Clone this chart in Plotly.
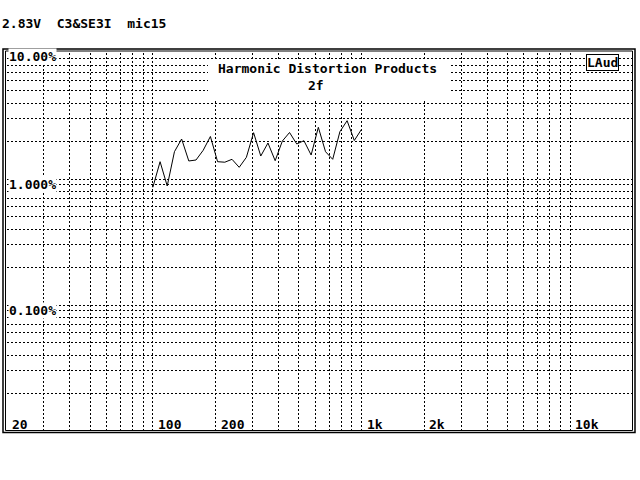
import math
import plotly.graph_objects as go

# ---- data ----
freq_hz = [100, 108.3, 117.2, 126.9, 137.4, 148.7, 161.0, 174.3, 188.7, 204.3,
           221.2, 239.5, 259.3, 280.7, 303.9, 329.0, 356.2, 385.6, 417.5, 451.9,
           489.3, 529.7, 573.5, 620.9, 672.2, 727.7, 787.8, 852.9, 923.4, 1000]
dist_pct = [0.859, 1.372, 0.880, 1.647, 2.077, 1.390, 1.415, 1.690, 2.175, 1.372,
            1.359, 1.433, 1.238, 1.486, 2.331, 1.522, 1.931, 1.397, 2.002, 2.339,
            1.896, 2.014, 1.550, 2.572, 1.647, 1.433, 2.374, 2.902, 2.021, 2.480]

x_grid = [20, 30, 40, 50, 60, 70, 80, 90, 100, 200, 300, 400, 500, 600, 700, 800, 900,
          1000, 2000, 3000, 4000, 5000, 6000, 7000, 8000, 9000, 10000, 20000]
y_grid = [0.01, 0.02, 0.03, 0.04, 0.05, 0.06, 0.07, 0.08, 0.09,
          0.1, 0.2, 0.3, 0.4, 0.5, 0.6, 0.7, 0.8, 0.9,
          1, 2, 3, 4, 5, 6, 7, 8, 9, 10]
x_label_vals = [20, 100, 200, 1000, 2000, 10000]
x_label_text = ["20", "100", "200", "1k", "2k", "10k"]
y_label_vals = [10, 1, 0.1]
y_label_text = ["10.00%", "1.000%", "0.100%"]
title_line1 = "Harmonic Distortion Products"
title_line2 = "2f"
header_text = "2.83V\u00a0\u00a0C3&SE3I\u00a0\u00a0mic15"
badge_text = "LAud"

# ---- layout geometry ----
W, H = 640, 480
L, R, T, B = 7, 7, 53, 49
PW, PH = W - L - R, H - T - B


def PX(px):
    return (px - L) / PW


def PY(py):
    return 1 - (py - T) / PH


FONT = "DejaVu Sans Mono"
fnt = dict(family=FONT, size=13, color="black", weight="bold")

fig = go.Figure()
fig.add_trace(go.Scatter(x=freq_hz, y=dist_pct, mode="lines",
                         line=dict(color="black", width=1), hoverinfo="skip",
                         showlegend=False))

grid_common = dict(showgrid=True, gridcolor="black", gridwidth=1, griddash="2px,2px",
                   showticklabels=False, ticks="", zeroline=False, showline=False,
                   type="log", tickmode="array")
fig.update_xaxes(range=[math.log10(20), math.log10(20000)], tickvals=x_grid, **grid_common)
fig.update_yaxes(range=[-2, 1], tickvals=y_grid, **grid_common)

shapes = []
# white box behind title
shapes.append(dict(type="rect", xref="paper", yref="paper",
                   x0=PX(208), x1=PX(449), y0=PY(100.5), y1=PY(60.5),
                   fillcolor="white", line=dict(width=0), layer="above"))
# double frame
shapes.append(dict(type="rect", xref="paper", yref="paper",
                   x0=PX(3), x1=PX(635), y0=PY(432.5), y1=PY(49),
                   line=dict(color="black", width=1.5), layer="above"))
shapes.append(dict(type="rect", xref="paper", yref="paper",
                   x0=PX(5.5), x1=PX(632.5), y0=PY(430.5), y1=PY(51),
                   line=dict(color="black", width=1), layer="above"))

ann = []
for v, t in zip(x_label_vals, x_label_text):
    ann.append(dict(x=math.log10(v), xref="x", y=PY(424), yref="paper", text=t,
                    showarrow=False, xanchor="left", yanchor="middle", xshift=3,
                    font=fnt))
for v, t in zip(y_label_vals, y_label_text):
    shift = -3 if v == max(y_label_vals) else -5
    ann.append(dict(x=PX(8), xref="paper", y=math.log10(v), yref="y", text=t,
                    showarrow=False, xanchor="left", yanchor="middle", yshift=shift,
                    bgcolor="white", borderpad=0, font=fnt))
ann.append(dict(x=PX(327), y=PY(77), xref="paper", yref="paper",
                text=title_line1 + "<br>" + title_line2 + "\u00a0" * 3,
                showarrow=False, xanchor="center", yanchor="middle", align="center",
                font=fnt))
ann.append(dict(x=PX(602), y=PY(62), xref="paper", yref="paper", text=badge_text,
                showarrow=False, xanchor="center", yanchor="middle", font=fnt,
                bgcolor="white", bordercolor="black", borderwidth=1, borderpad=0))
ann.append(dict(x=PX(0), y=PY(23), xref="paper", yref="paper", text=header_text,
                showarrow=False, xanchor="left", yanchor="middle", font=fnt))

fig.update_layout(width=W, height=H, autosize=False,
                  margin=dict(l=L, r=R, t=T, b=B, pad=0),
                  paper_bgcolor="white", plot_bgcolor="white",
                  shapes=shapes, annotations=ann, showlegend=False)

fig.write_html("out.html", config={"displayModeBar": False, "staticPlot": True},
               post_script="document.body.style.margin='0';")
